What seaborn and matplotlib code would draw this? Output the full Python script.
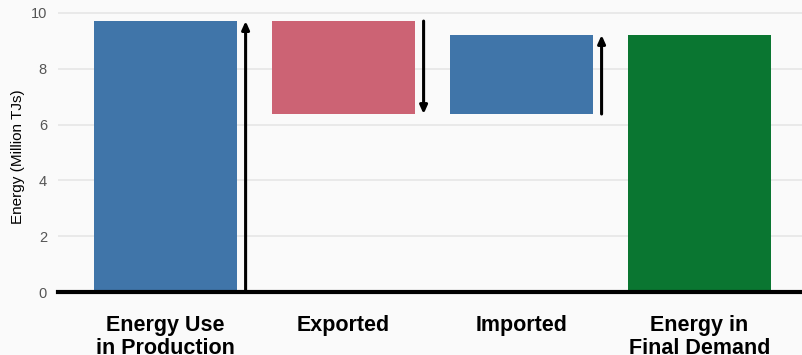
import matplotlib
matplotlib.use("Agg")
import matplotlib.pyplot as plt
import seaborn as sns
import pandas as pd
import numpy as np

categories = ["Energy Use\nin Production", "Exported", "Imported", "Energy in\nFinal Demand"]
bar_top = [9.71, 9.71, 9.21, 9.21]
bar_bottom = [0.0, 6.38, 6.38, 0.0]
bar_colors = ["#4075a9", "#cc6374", "#4075a9", "#0a7631"]
# arrows: (category index, start value, end value)
arrow_cat = [0, 1, 2]
arrow_start = [0.0, 9.71, 6.38]
arrow_end = [9.71, 6.38, 9.21]

sns.set_theme(style="whitegrid")
bg = "#fafafa"
plt.rcParams["font.family"] = ["Liberation Sans", "DejaVu Sans"]

fig = plt.figure(figsize=(8.02, 3.55), dpi=100, facecolor=bg)
ax = fig.add_axes([58 / 802, 1 - 292 / 355, 1 - 58 / 802, (292 - 10.2) / 355])
ax.set_facecolor(bg)

df = pd.DataFrame({
    "cat": categories,
    "height": np.array(bar_top) - np.array(bar_bottom),
})
sns.barplot(data=df, x="cat", y="height", order=categories, bottom=bar_bottom,
            width=0.8, ax=ax, color=bar_colors[0], saturation=1, linewidth=0)
for p, c in zip(ax.patches, bar_colors):
    p.set_facecolor(c)
    p.set_edgecolor("none")

for i, s, e in zip(arrow_cat, arrow_start, arrow_end):
    ax.annotate("", xy=(i + 0.45, e), xytext=(i + 0.45, s),
                arrowprops=dict(arrowstyle="-|>,head_length=0.4,head_width=0.18",
                                color="black", lw=2.2, shrinkA=0, shrinkB=0),
                zorder=5)

ax.set_xlim(-0.604, 3.576)
ax.set_ylim(0, 10.1)
ax.set_yticks([0, 2, 4, 6, 8, 10])
ax.grid(axis="y", color="#e6e6e6", linewidth=1.2)
ax.grid(axis="x", visible=False)
for s in ["left", "right", "top"]:
    ax.spines[s].set_visible(False)
ax.spines["bottom"].set_color("black")
ax.spines["bottom"].set_linewidth(3)
ax.spines["bottom"].set_zorder(6)

ax.tick_params(axis="y", length=0, pad=8, labelsize=10.5, labelcolor="#555555")
ax.tick_params(axis="x", length=0, pad=16.5)
for lbl in ax.get_xticklabels():
    lbl.set_fontweight("bold")
    lbl.set_fontsize(15.5)
    lbl.set_color("black")
    lbl.set_linespacing(1.15)
ax.set_xlabel("")
ax.set_ylabel("Energy (Million TJs)", fontsize=11, color="black")
ax.yaxis.set_label_coords(-0.045, 0.479)

fig.savefig("out.png", dpi=100, facecolor=bg)
